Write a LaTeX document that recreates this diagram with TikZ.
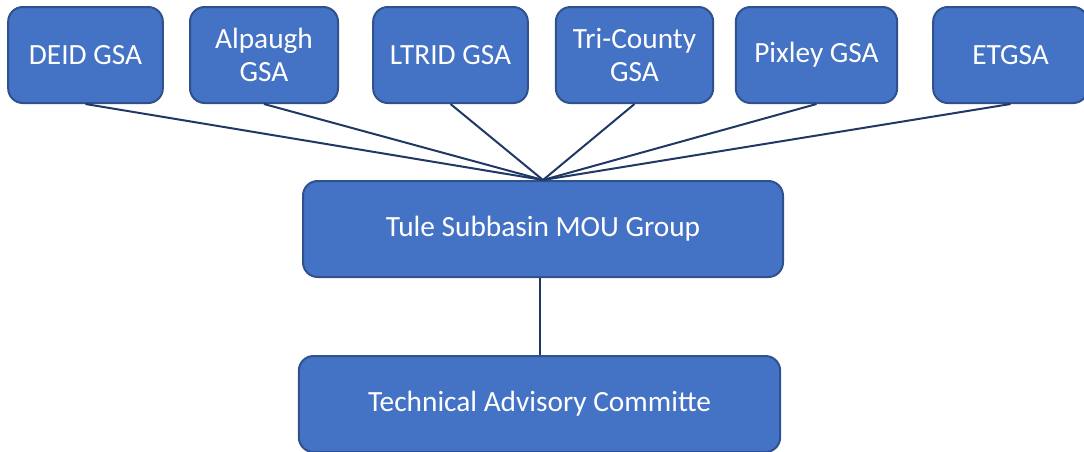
\documentclass[tikz,border=0pt]{standalone}
\usepackage{fontspec}
\setmainfont{Carlito}
\definecolor{boxblue}{HTML}{4472C4}
\definecolor{boxedge}{HTML}{2F528F}
\definecolor{linknavy}{HTML}{203864}
\begin{document}
\begin{tikzpicture}[
			x=0.75pt, y=-0.75pt,
			gsa/.style={
				draw=boxedge,
				fill=boxblue,
				line width=1.5pt,
				rounded corners=11pt,
				text=white,
				align=center,
				font=\fontsize{22}{25}\selectfont,
				minimum height=72pt,
				inner sep=0pt
			},
			link/.style={
				draw=linknavy,
				line width=1.5pt
			}
			]

			\useasboundingbox (0,0) rectangle (1084,451);

			% Member GSAs
			\node[gsa, minimum width=116pt] (deid) at (85.5,55) {DEID GSA};
			\node[gsa, minimum width=111pt] (alpaugh) at (264,55) {Alpaugh\\GSA};
			\node[gsa, minimum width=116pt] (ltrid) at (450.5,55) {LTRID GSA};
			\node[gsa, minimum width=118pt] (tricounty) at (634.5,55) {Tri-County\\GSA};
			\node[gsa, minimum width=121pt] (pixley) at (816.5,55) {Pixley GSA};
			\node[gsa, minimum width=116pt] (etgsa) at (1010.5,55) {ETGSA};

			% MOU group and committee
			\node[gsa, minimum width=360pt] (mou) at (543,229) {Tule Subbasin MOU Group};
			\node[gsa, minimum width=361pt] (tac) at (539.5,404) {Technical Advisory Commi{}tte};

			% Links
			\foreach \g in {deid,alpaugh,ltrid,tricounty,pixley,etgsa}
				\draw[link] (\g.south) -- (mou.north);
			\draw[link] ([xshift=0.5pt]tac.north) -- ([xshift=0.5pt]tac.north |- mou.south);

		\end{tikzpicture}
\end{document}
